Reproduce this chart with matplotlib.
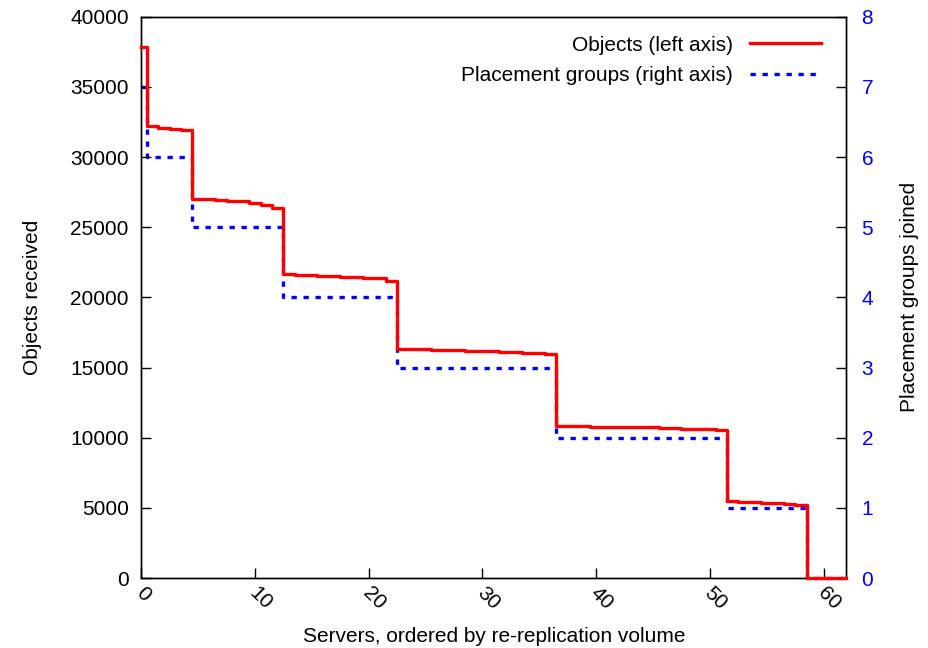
import numpy as np
import matplotlib
matplotlib.use("Agg")
import matplotlib.pyplot as plt
from matplotlib.transforms import ScaledTranslation

plt.rcParams['font.family'] = ['Liberation Sans', 'DejaVu Sans']

# Data: one value per server (ordered by re-replication volume)
servers = list(range(63))
objects = ([37850] +
           [32200, 32100, 32000, 31900] +
           [27050, 27000, 26950, 26900, 26850, 26750, 26600, 26400] +
           [21650, 21600, 21600, 21550, 21500, 21450, 21450, 21400, 21350, 21200] +
           [16350, 16300, 16300, 16250, 16250, 16250, 16200, 16200, 16150, 16100,
            16100, 16050, 16050, 16000] +
           [10850, 10850, 10850, 10800, 10800, 10800, 10800, 10750, 10750, 10700,
            10700, 10650, 10650, 10600, 10550] +
           [5500, 5450, 5400, 5350, 5350, 5300, 5200] +
           [0, 0, 0, 0])
groups = ([7] + [6] * 4 + [5] * 8 + [4] * 10 + [3] * 14 + [2] * 15 + [1] * 7 + [0] * 4)

left_ticks = [0, 5000, 10000, 15000, 20000, 25000, 30000, 35000, 40000]
right_ticks = [0, 1, 2, 3, 4, 5, 6, 7, 8]
x_ticks = [0, 10, 20, 30, 40, 50, 60]

FS = 15

fig = plt.figure(figsize=(9.29, 6.48), dpi=100)
ax = fig.add_axes([0.152, 0.108, 0.759, 0.866])
ax2 = ax.twinx()

l1, = ax.step(servers, objects, where='mid', color='#ff0000', lw=2.4,
              zorder=5, clip_on=False, label='Objects (left axis)')
l2, = ax2.step(servers, groups, where='mid', color='#0000ff', lw=2.4,
               linestyle=(0, (1.6, 2.0)), zorder=4, clip_on=False,
               label='Placement groups (right axis)')
ax.set_zorder(ax2.get_zorder() + 1)
ax.patch.set_visible(False)

ax.set_xlim(0, 62)
ax.set_ylim(0, 40000)
ax2.set_ylim(0, 8)

ax.set_xticks(x_ticks)
ax.set_yticks(left_ticks)
ax2.set_yticks(right_ticks)

ax.tick_params(axis='both', direction='in', length=7, width=1, labelsize=FS,
               top=False, right=False)
ax.tick_params(axis='y', pad=9)
ax.tick_params(axis='x', pad=4)
ax2.tick_params(axis='y', direction='in', length=7, width=1, labelsize=FS,
                labelcolor='#0000ff', pad=11)

offset = ScaledTranslation(3 / 72, 0, fig.dpi_scale_trans)
for lab in ax.get_xticklabels():
    lab.set_rotation(-45)
    lab.set_rotation_mode('anchor')
    lab.set_ha('left')
    lab.set_va('top')
    lab.set_transform(lab.get_transform() + offset)

ax.set_xlabel('Servers, ordered by re-replication volume', fontsize=FS, labelpad=10)
ax.set_ylabel('Objects received', fontsize=FS, labelpad=20)
ax2.set_ylabel('Placement groups joined', fontsize=FS, labelpad=19)

for a in (ax, ax2):
    for s in a.spines.values():
        s.set_linewidth(1.0)

leg = ax.legend(handles=[l1, l2], loc='upper right', frameon=False,
                markerfirst=False, fontsize=FS, handlelength=3.4,
                handletextpad=0.8, labelspacing=0.55,
                bbox_to_anchor=(0.99, 1.0))

fig.savefig('out.png', dpi=100)
